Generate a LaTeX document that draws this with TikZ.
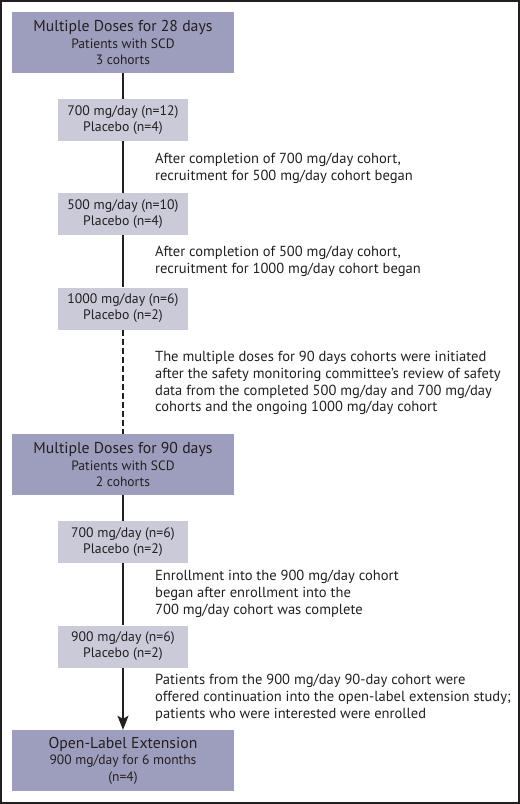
\documentclass[tikz,border=0pt]{standalone}
\usepackage{fontspec}
\setmainfont{PT Sans}
\usetikzlibrary{positioning,arrows.meta}
\definecolor{phasefill}{RGB}{157,158,190}
\definecolor{armfill}{RGB}{203,202,217}
\definecolor{inkdark}{RGB}{35,31,32}

\begin{document}
\begin{tikzpicture}[x=1bp,y=-1bp,
    phase/.style={fill=phasefill, minimum width=222bp, minimum height=61bp, inner sep=0pt, align=center,
        text=inkdark, font=\fontsize{13.6}{16.5}\selectfont},
    arm/.style={fill=armfill, minimum width=130bp, minimum height=42bp, inner sep=0pt, align=center,
        text=inkdark, font=\fontsize{13.8}{16}\selectfont},
    note/.style={anchor=west, align=left, inner sep=0pt, text=inkdark, font=\fontsize{14.6}{16.8}\selectfont},
    link/.style={draw=inkdark, line width=1.6bp}]
        \useasboundingbox (0,0) rectangle (520,804);

        % Frame
        \draw[inkdark, line width=1.5bp] (1,1) rectangle (519,803);

        % Phases (big boxes)
        \node[phase] (md28) at (123,42.5) {{\fontsize{15.8}{18}\selectfont Multiple Doses for 28 days}\\Patients with SCD\\3 cohorts};
        \node[phase] (md90) at (123,464.5) {{\fontsize{15.8}{18}\selectfont Multiple Doses for 90 days}\\Patients with SCD\\2 cohorts};
        \node[phase] (ole) at (123,760.5) {{\fontsize{15.8}{18}\selectfont Open-Label Extension}\\900 mg/day for 6 months\\(n=4)};

        % Cohorts (small boxes)
        \node[arm] (c700a) at (123,120) {700 mg/day (n=12)\\Placebo (n=4)};
        \node[arm] (c500) at (123,214) {500 mg/day (n=10)\\Placebo (n=4)};
        \node[arm] (c1000) at (123,308.5) {1000 mg/day (n=6)\\Placebo (n=2)};
        \node[arm] (c700b) at (123,542) {700 mg/day (n=6)\\Placebo (n=2)};
        \node[arm] (c900) at (123,646.5) {900 mg/day (n=6)\\Placebo (n=2)};

        % Connectors
        \draw[link] (md28) -- (c700a);
        \draw[link] (c700a) -- (c500);
        \draw[link] (c500) -- (c1000);
        \draw[link, dash pattern=on 6bp off 3bp] (c1000) -- (md90);
        \draw[link] (md90) -- (c700b);
        \draw[link] (c700b) -- (c900);
        \draw[link, -{Stealth[length=14bp, width=11bp, inset=3bp]}] (c900) -- (ole);

        % Notes
        \node[note] (n1) at (155,168.5) {After completion of 700 mg/day cohort,\\recruitment for 500 mg/day cohort began};
        \node[note] (n2) at (155,261.5) {After completion of 500 mg/day cohort,\\recruitment for 1000 mg/day cohort began};
        \node[note] (n3) at (155,383) {The multiple doses for 90 days cohorts were initiated\\after the safety monitoring committee’s review of safety\\data from the completed 500 mg/day and 700 mg/day\\cohorts and the ongoing 1000 mg/day cohort};
        \node[note] (n4) at (155,594) {Enrollment into the 900 mg/day cohort\\began after enrollment into the\\700 mg/day cohort was complete};
        \node[note] (n5) at (155,698) {Patients from the 900 mg/day 90-day cohort were\\offered continuation into the open-label extension study;\\patients who were interested were enrolled};
\end{tikzpicture}
\end{document}
